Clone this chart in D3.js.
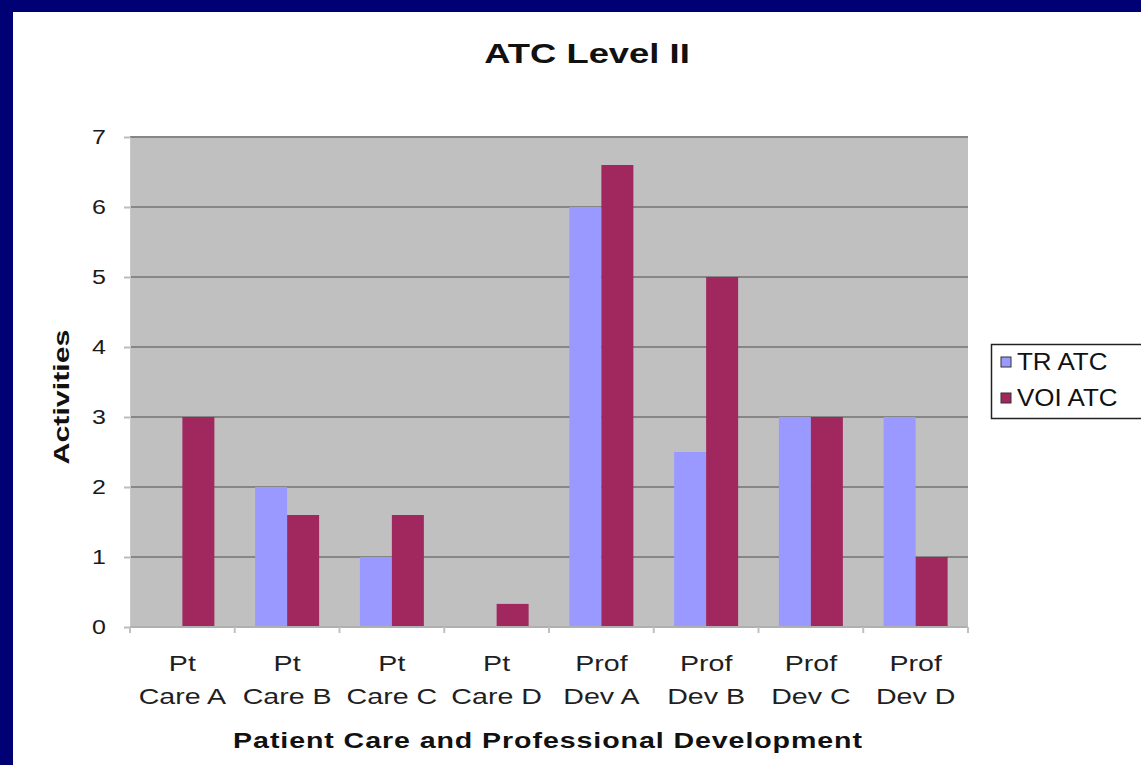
<!DOCTYPE html>
<html>
<head>
<meta charset="utf-8">
<script src="https://cdn.jsdelivr.net/npm/d3@7"></script>
<style>
  html, body { margin: 0; padding: 0; background: #ffffff; }
  svg { display: block; }
  text { font-family: "Liberation Sans", Arial, sans-serif; }
</style>
</head>
<body>
<script>
// Chart data
const categories = [
  ["Pt", "Care A"], ["Pt", "Care B"], ["Pt", "Care C"], ["Pt", "Care D"],
  ["Prof", "Dev A"], ["Prof", "Dev B"], ["Prof", "Dev C"], ["Prof", "Dev D"]
];
const seriesNames = ["TR ATC", "VOI ATC"];
const trAtc  = [0, 2, 1, 0, 6, 2.5, 3, 3];
const voiAtc = [3, 1.6, 1.6, 0.33, 6.6, 5, 3, 1];
const yTicks = [0, 1, 2, 3, 4, 5, 6, 7];

const W = 1141, H = 765;
const colors = ["#9999ff", "#a0285f"];
const SX = 1.3; // wide lettering used throughout the chart

const svg = d3.select("body").append("svg").attr("width", W).attr("height", H);

// Places a horizontally widened text item at (x, y)
function wideText(parent, x, y, str, opts) {
  const g = parent.append("g").attr("transform", `translate(${x},${y}) scale(${opts.sx || SX},1)`);
  const t = g.append("text").attr("x", 0).attr("y", 0)
    .attr("text-anchor", opts.anchor || "middle")
    .attr("font-size", opts.size)
    .attr("font-weight", opts.weight || "normal")
    .attr("fill", opts.fill || "#111")
    .text(str);
  if (opts.spacing) t.attr("letter-spacing", opts.spacing);
  return t;
}

// Frame: navy border along the top and left
svg.append("rect").attr("x", 0).attr("y", 0).attr("width", W).attr("height", H).attr("fill", "#000075");
svg.append("rect").attr("x", 13).attr("y", 12).attr("width", W - 13).attr("height", H - 12).attr("fill", "#ffffff");

const plot = { left: 130, right: 968, top: 137, bottom: 627 };

const x0 = d3.scaleBand().domain(d3.range(categories.length)).range([plot.left, plot.right]).paddingInner(0).paddingOuter(0);
const barW = 32;
const y = d3.scaleLinear().domain([0, 7]).range([plot.bottom, plot.top]);

// Plot background
svg.append("rect")
  .attr("x", plot.left).attr("y", plot.top)
  .attr("width", plot.right - plot.left).attr("height", plot.bottom - plot.top)
  .attr("fill", "#c0c0c0");

// Horizontal gridlines
svg.append("g").selectAll("line").data(yTicks.filter(t => t > 0)).join("line")
  .attr("x1", plot.left).attr("x2", plot.right)
  .attr("y1", d => y(d)).attr("y2", d => y(d))
  .attr("stroke", "#868686").attr("stroke-width", 2);

// Bars
const rows = categories.map((c, i) => ({ i, vals: [trAtc[i], voiAtc[i]] }));
const groups = svg.append("g").selectAll("g").data(rows).join("g");
groups.selectAll("rect").data(d => d.vals.map((v, s) => ({ i: d.i, s, v }))).join("rect")
  .filter(d => d.v > 0)
  .attr("x", d => x0(d.i) + x0.bandwidth() / 2 - barW + d.s * barW)
  .attr("y", d => y(d.v))
  .attr("width", barW)
  .attr("height", d => y(0) - y(d.v))
  .attr("fill", d => colors[d.s]);

// Y axis (line and ticks via d3.axisLeft, labels widened separately)
const yAxis = d3.axisLeft(y).tickValues(yTicks).tickSize(6).tickFormat("");
const yg = svg.append("g").attr("transform", `translate(${plot.left},0)`).call(yAxis);
yg.select(".domain").attr("stroke", "#c8c8c8").attr("stroke-width", 1);
yg.selectAll(".tick line").attr("stroke", "#bdbdbd").attr("stroke-width", 2);
const yLabels = svg.append("g");
yTicks.forEach(t => wideText(yLabels, 106, y(t) + 7, d3.format("d")(t), { size: 20, anchor: "end", sx: 1.25, fill: "#1a1a1a" }));

// X axis baseline and separators between categories
const xg = svg.append("g");
xg.append("line").attr("x1", plot.left).attr("x2", plot.right).attr("y1", plot.bottom).attr("y2", plot.bottom)
  .attr("stroke", "#b0b0b0").attr("stroke-width", 2);
xg.selectAll("line.sep").data(d3.range(categories.length + 1)).join("line").attr("class", "sep")
  .attr("x1", i => plot.left + i * x0.bandwidth()).attr("x2", i => plot.left + i * x0.bandwidth())
  .attr("y1", plot.bottom).attr("y2", plot.bottom + 6)
  .attr("stroke", "#c0c0c0").attr("stroke-width", 2);

// Category labels (two lines)
const catG = svg.append("g");
categories.forEach((c, i) => {
  const cx = x0(i) + x0.bandwidth() / 2;
  wideText(catG, cx, 671, c[0], { size: 22, fill: "#1f1f1f" });
  wideText(catG, cx, 704, c[1], { size: 22, fill: "#1f1f1f" });
});

// Title
wideText(svg, 587, 63, "ATC Level II", { size: 28, weight: "bold" });

// Axis titles
wideText(svg, 548, 748, "Patient Care and Professional Development", { size: 22, weight: "bold", spacing: 0.7 });

svg.append("text").attr("transform", "translate(69,397) rotate(-90)").attr("text-anchor", "middle")
  .attr("font-size", 22).attr("font-weight", "bold").attr("fill", "#111")
  .attr("textLength", 135).attr("lengthAdjust", "spacingAndGlyphs")
  .text("Activities");

// Legend
const lg = svg.append("g");
lg.append("rect").attr("x", 991.5).attr("y", 344.5).attr("width", 200).attr("height", 74)
  .attr("fill", "#ffffff").attr("stroke", "#222").attr("stroke-width", 1.5);
seriesNames.forEach((name, s) => {
  const cy = 362 + s * 36;
  lg.append("rect").attr("x", 1001).attr("y", cy - 5).attr("width", 10).attr("height", 10)
    .attr("fill", colors[s]).attr("stroke", "#333").attr("stroke-width", 1);
  wideText(lg, 1017, cy + 8, name, { size: 23, anchor: "start", sx: 1.13 });
});
</script>
</body>
</html>
